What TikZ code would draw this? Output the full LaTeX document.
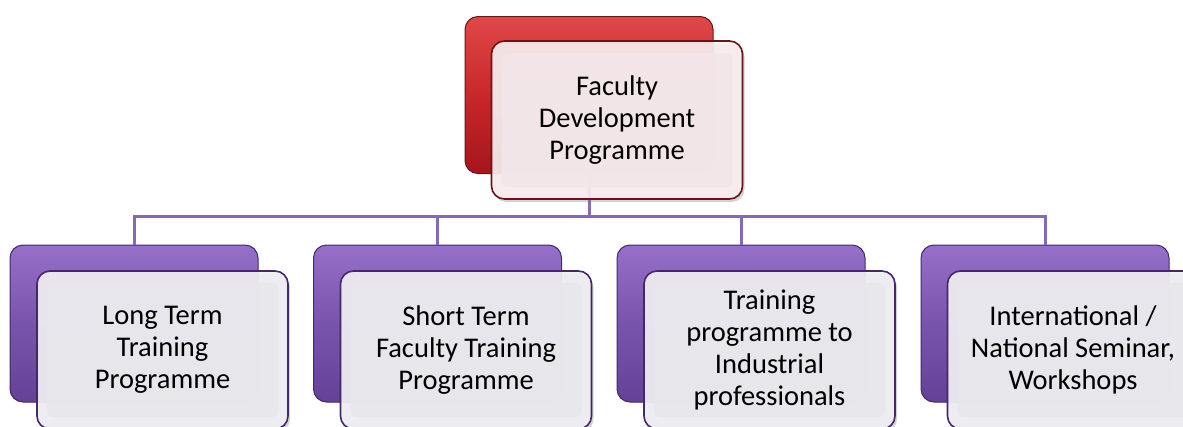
\documentclass[tikz,border=0pt]{standalone}
\usepackage{fontspec}
\setmainfont{Carlito}
\usetikzlibrary{shadows}
\definecolor{redT}{RGB}{224,72,72}
\definecolor{redM}{RGB}{200,40,42}
\definecolor{redB}{RGB}{165,22,28}
\definecolor{redEdge}{RGB}{105,20,25}
\definecolor{purT}{RGB}{150,112,200}
\definecolor{purM}{RGB}{122,84,172}
\definecolor{purB}{RGB}{100,66,150}
\definecolor{purEdge}{RGB}{68,40,105}
\definecolor{conn}{RGB}{135,105,185}
\definecolor{frontRed}{RGB}{250,240,241}
\definecolor{frontGrey}{RGB}{240,239,243}
\definecolor{innerRed}{RGB}{243,230,232}
\definecolor{innerGrey}{RGB}{232,231,236}
\tikzset{
  backbox/.style={rectangle, rounded corners=13pt, minimum width=248pt, minimum height=157pt, line width=1pt, inner sep=0pt},
  backred/.style={backbox, draw=redEdge, top color=redT, bottom color=redB, middle color=redM},
  backpur/.style={backbox, draw=purEdge, top color=purT, bottom color=purB, middle color=purM},
  frontbox/.style={rectangle, rounded corners=13pt, minimum width=251pt, minimum height=158pt, line width=1.6pt,
    align=center, font=\fontsize{28.5}{32}\selectfont, text=black,
    drop shadow={opacity=0.35, shadow xshift=2pt, shadow yshift=-3pt}},
  frontred/.style={frontbox, draw=redEdge, fill=frontRed, fill opacity=0.9, text opacity=1,
    path picture={\fill[innerRed, rounded corners=6pt] ([shift={(10pt,-12pt)}]path picture bounding box.north west) rectangle ([shift={(-10pt,12pt)}]path picture bounding box.south east);}},
  frontpur/.style={frontbox, draw=purEdge, fill=frontGrey, fill opacity=0.92, text opacity=1,
    path picture={\fill[innerGrey, rounded corners=6pt] ([shift={(10pt,-12pt)}]path picture bounding box.north west) rectangle ([shift={(-10pt,12pt)}]path picture bounding box.south east);}},
  connector/.style={draw=conn, line width=3pt}
}
\begin{document}
\begin{tikzpicture}[x=1pt,y=-1pt]
\useasboundingbox (0,0) rectangle (1183,426);
% back boxes
\node[backred] (topback) at (589,95) {};
\node[backpur] (b1) at (134,323.5) {};
\node[backpur] (b2) at (437.5,323.5) {};
\node[backpur] (b3) at (741,323.5) {};
\node[backpur] (b4) at (1045,323.5) {};
% connectors
\coordinate (bus) at (589,216);
\draw[connector] (topback.south) -- (bus);
\draw[connector] (b1.north) |- (bus);
\draw[connector] (b2.north) |- (bus);
\draw[connector] (b3.north) |- (bus);
\draw[connector] (b4.north) |- (bus);
% front boxes
\node[frontred] (top) at (617,120) {Faculty\\Development\\Programme};
\node[frontpur] (f1) at (162.5,350) {Long Term\\Training\\Programme};
\node[frontpur] (f2) at (466,350) {Short Term\\Faculty Training\\Programme};
\node[frontpur] (f3) at (769.5,350) {Training\\programme to\\Industrial\\professionals};
\node[frontpur] (f4) at (1073,350) {International /\\National Seminar,\\Workshops};
\end{tikzpicture}
\end{document}
